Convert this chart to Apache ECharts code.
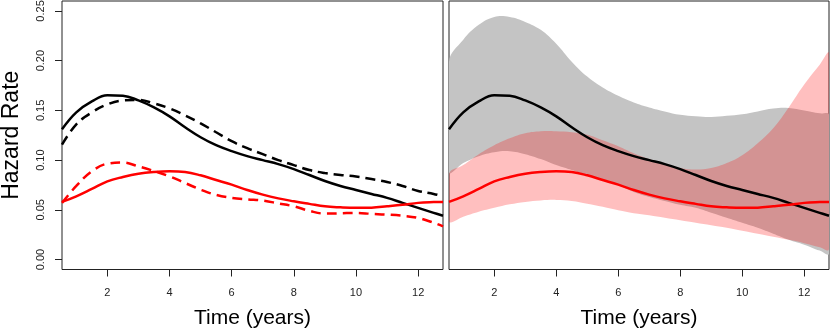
<!DOCTYPE html>
<html>
<head>
<meta charset="utf-8">
<script src="https://cdn.jsdelivr.net/npm/echarts@6/dist/echarts.min.js"></script>
<style>
  html, body { margin: 0; padding: 0; background: #fff; }
  #chart { width: 830px; height: 329px; }
</style>
</head>
<body>
<div id="chart"></div>
<script>
// sample times (years)
const years = [0.54, 1, 1.5, 2, 2.5, 3, 3.5, 4, 4.5, 5, 5.5, 6, 6.5, 7, 7.5, 8, 8.5, 9, 9.5, 10, 10.5, 11, 11.5, 12, 12.5, 12.8];

// left panel: fitted hazards
const blackSolid = [0.131, 0.148, 0.159, 0.1652, 0.1648, 0.160, 0.153, 0.144, 0.133, 0.123, 0.115, 0.109, 0.104, 0.100, 0.096, 0.091, 0.085, 0.079, 0.074, 0.070, 0.066, 0.062, 0.057, 0.052, 0.047, 0.044];
const blackDashed = [0.1155, 0.136, 0.148, 0.156, 0.160, 0.1605, 0.157, 0.152, 0.145, 0.137, 0.128, 0.119, 0.112, 0.106, 0.100, 0.095, 0.090, 0.087, 0.085, 0.0835, 0.081, 0.078, 0.074, 0.069, 0.066, 0.0636];
const redSolid = [0.058, 0.0636, 0.071, 0.0786, 0.083, 0.0863, 0.088, 0.0887, 0.088, 0.0847, 0.080, 0.0753, 0.070, 0.0653, 0.0615, 0.0586, 0.056, 0.0535, 0.0525, 0.052, 0.0522, 0.0535, 0.055, 0.057, 0.0578, 0.058];
const redDashed = [0.057, 0.074, 0.0887, 0.0964, 0.0975, 0.0937, 0.089, 0.0837, 0.077, 0.0703, 0.065, 0.062, 0.0605, 0.0593, 0.0565, 0.0535, 0.049, 0.0462, 0.0465, 0.0469, 0.046, 0.0452, 0.044, 0.0418, 0.037, 0.0334];

// right panel: confidence bands
const grayUpper = [0.199, 0.221, 0.236, 0.2440, 0.2440, 0.239, 0.231, 0.217, 0.199, 0.184, 0.173, 0.1647, 0.158, 0.153, 0.149, 0.1455, 0.144, 0.1433, 0.1445, 0.146, 0.149, 0.152, 0.1525, 0.150, 0.147, 0.1456];
const grayLower = [0.088, 0.097, 0.104, 0.108, 0.109, 0.106, 0.101, 0.095, 0.090, 0.085, 0.080, 0.075, 0.068, 0.063, 0.059, 0.055, 0.052, 0.047, 0.042, 0.037, 0.032, 0.026, 0.020, 0.015, 0.009, 0.006];
const redUpper = [0.086, 0.095, 0.106, 0.115, 0.122, 0.127, 0.129, 0.129, 0.128, 0.1255, 0.120, 0.114, 0.107, 0.101, 0.096, 0.092, 0.0905, 0.092, 0.097, 0.105, 0.117, 0.132, 0.153, 0.176, 0.196, 0.2075];
const redLower = [0.0385, 0.043, 0.048, 0.052, 0.0555, 0.058, 0.0595, 0.060, 0.059, 0.0562, 0.053, 0.0495, 0.0465, 0.0445, 0.042, 0.0395, 0.037, 0.0345, 0.032, 0.029, 0.026, 0.023, 0.0198, 0.0165, 0.0125, 0.0105];

const xTicks = [2, 4, 6, 8, 10, 12];
const yTicks = [0, 0.05, 0.10, 0.15, 0.20, 0.25];

const FONT = 'Liberation Sans, Arial, sans-serif';
const pairs = ys => years.map((x, i) => [x, ys[i]]);

const xAxisFor = gridIndex => ({
  type: 'value', gridIndex, min: 0.54, max: 12.8,
  name: 'Time (years)', nameLocation: 'middle', nameGap: 38,
  nameTextStyle: { fontSize: 21, color: '#000', fontFamily: FONT },
  splitLine: { show: false },
  axisLine: { show: false, onZero: false },
  axisTick: { show: true, length: 7, customValues: xTicks, lineStyle: { color: '#222' } },
  axisLabel: { customValues: xTicks, margin: 18, fontSize: 11, color: '#222', fontFamily: FONT }
});

const line = (name, data, color, dashed, axis) => ({
  name, type: 'line', data, xAxisIndex: axis, yAxisIndex: axis,
  smooth: 0.4, symbol: 'none', silent: true,
  lineStyle: { color, width: 2.5, type: dashed ? [10, 6] : 'solid' }
});

// band between lower and upper curves, drawn as one smoothed polygon in axis coordinates
const band = (name, lo, hi, color) => ({
  name, type: 'custom', xAxisIndex: 1, yAxisIndex: 1, silent: true, clip: true,
  data: [0],
  renderItem: (params, api) => {
    const top = years.map((x, i) => api.coord([x, hi[i]]));
    const bot = years.map((x, i) => api.coord([x, lo[i]])).reverse();
    return {
      type: 'polygon',
      shape: { points: top.concat(bot), smooth: 0.4 },
      style: { fill: color, stroke: null }
    };
  }
});

const chart = echarts.init(document.getElementById('chart'));
chart.setOption({
  animation: false,
  backgroundColor: '#fff',
  grid: [
    { left: 62, top: 1, width: 381, bottom: 59.5, outerBoundsMode: 'none', containLabel: false,
      show: true, borderColor: '#222', borderWidth: 1, backgroundColor: 'transparent' },
    { left: 449, top: 1, width: 380, bottom: 59.5, outerBoundsMode: 'none', containLabel: false,
      show: true, borderColor: '#222', borderWidth: 1, backgroundColor: 'transparent' }
  ],
  xAxis: [xAxisFor(0), xAxisFor(1)],
  yAxis: [
    {
      type: 'value', gridIndex: 0, min: -0.01, max: 0.26,
      name: 'Hazard Rate', nameLocation: 'middle', nameGap: 39, nameRotate: 90,
      nameTextStyle: { fontSize: 23, color: '#000', fontFamily: FONT },
      splitLine: { show: false },
      axisLine: { show: false, onZero: false },
      axisTick: { show: true, length: 7, customValues: yTicks, lineStyle: { color: '#222' } },
      axisLabel: { customValues: yTicks, rotate: 90, margin: 16, fontSize: 11, color: '#222', fontFamily: FONT,
        formatter: v => v.toFixed(2) }
    },
    {
      type: 'value', gridIndex: 1, min: -0.01, max: 0.26,
      splitLine: { show: false },
      axisLine: { show: false, onZero: false },
      axisTick: { show: false },
      axisLabel: { show: false }
    }
  ],
  series: [
    line('black dashed', pairs(blackDashed), '#000', true, 0),
    line('black', pairs(blackSolid), '#000', false, 0),
    line('red dashed', pairs(redDashed), '#ff0000', true, 0),
    line('red', pairs(redSolid), '#ff0000', false, 0),
    band('gray band', grayLower, grayUpper, '#c4c4c4'),
    line('black band', pairs(blackSolid), '#000', false, 1),
    band('red band', redLower, redUpper, 'rgba(255,0,0,0.25)'),
    line('red band', pairs(redSolid), '#ff0000', false, 1)
  ]
});
</script>
</body>
</html>
